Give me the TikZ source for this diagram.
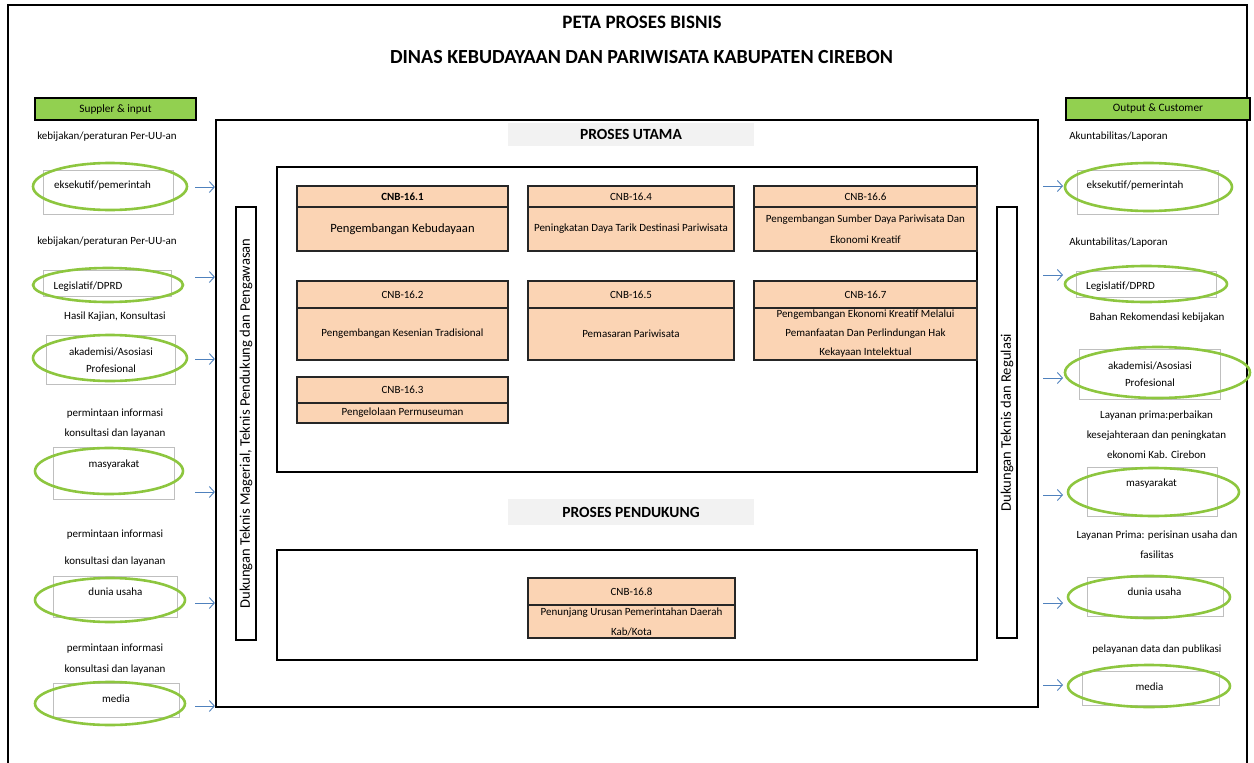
\documentclass[tikz,border=0pt]{standalone}
\usepackage{fontspec}
\setmainfont{Carlito}
\usetikzlibrary{shapes.geometric, arrows.meta, positioning}
\definecolor{procfill}{HTML}{FBD4B4}
\definecolor{tabgreen}{HTML}{92D050}
\definecolor{ringgreen}{HTML}{8DC63F}
\definecolor{arrblue}{HTML}{4F81BD}
\definecolor{hdrgray}{HTML}{F2F2F2}
\definecolor{boxgray}{HTML}{BFBFBF}
\tikzstyle{arrow} = [draw=arrblue, line width=0.9pt, -{Straight Barb[length=5pt,width=11pt]}]
\tikzstyle{tab}   = [rectangle, draw=black, line width=2.4pt, fill=tabgreen, inner sep=0pt,
                     minimum height=22pt, font=\fontsize{11.3}{13}\selectfont]

\begin{document}
\begin{tikzpicture}[x=1pt, y=-1pt,
    frame/.style={rectangle, draw=black, line width=2.2pt, inner sep=0pt},
    hdr/.style={rectangle, fill=hdrgray, minimum width=246pt, inner sep=0pt,
                font=\fontsize{15.5}{17}\selectfont\bfseries},
    bar/.style={rectangle, draw=black, line width=2pt, rotate=90, minimum width=433pt,
                minimum height=20pt, inner sep=0pt, font=\fontsize{14.6}{16}\selectfont},
    code/.style={rectangle, draw=black!85, line width=1.3pt, fill=procfill, inner sep=0pt,
                 font=\fontsize{11}{12}\selectfont},
    proc/.style={rectangle, draw=black!85, line width=1.3pt, fill=procfill, inner sep=0pt,
                 align=center, font=\fontsize{11}{19}\selectfont},
    grect/.style={rectangle, draw=boxgray, line width=1pt, inner sep=0pt},
    ring/.style={ellipse, draw=ringgreen, line width=2.6pt, inner sep=0pt},
    itm/.style={align=center, inner sep=0pt, font=\fontsize{11}{17}\selectfont},
    lbl/.style={align=center, inner sep=0pt, font=\fontsize{11}{20}\selectfont}]

  \useasboundingbox (0,0) rectangle (1254,763);
  \draw[line width=2pt] (8,763) -- (8,5) -- (1247,5) -- (1247,763);

  \node[font=\fontsize{19}{22}\selectfont\bfseries] (title) at (642,22) {PETA PROSES BISNIS};
  \node[font=\fontsize{20}{22}\selectfont\bfseries] (subtitle) at (641.5,57)
       {DINAS KEBUDAYAAN DAN PARIWISATA KABUPATEN CIREBON};

  \node[tab, minimum width=161pt] (supin)  at (115.5,109) {Suppler \& input};
  \node[tab, minimum width=184pt] (outcus) at (1158,109)  {Output \& Customer};

  \node[frame, minimum width=822pt, minimum height=587pt] (main)   at (627,413.5) {};
  \node[frame, minimum width=700pt, minimum height=305pt] (utama)  at (627,319.5) {};
  \node[frame, minimum width=700pt, minimum height=110pt] (dukung) at (627,605)   {};
  \node[hdr, minimum height=23pt] (hutama)  at (631,134.5) {PROSES UTAMA};
  \node[hdr, minimum height=26pt] (hdukung) at (631,512)   {PROSES PENDUKUNG};

  \node[bar] (barl) at (246,423.5)
       {Dukungan Teknis Magerial, Teknis Pendukung dan Pengawasan};
  \node[bar, minimum width=431pt] (barr) at (1007,422.5)
       {Dukungan Teknis dan Regulasi};

  \node[code, minimum width=211pt, minimum height=21pt, font=\fontsize{11}{12}\selectfont\bfseries]
       (c1) at (402.5,196.5) {CNB-16.1};
  \node[proc, minimum width=211pt, minimum height=44pt, font=\fontsize{12.6}{15}\selectfont]
       (p1) at (402.5,229) {Pengembangan Kebudayaan};
  \node[code, minimum width=206pt, minimum height=21pt] (c4) at (631,196.5) {CNB-16.4};
  \node[proc, minimum width=206pt, minimum height=44pt] (p4) at (631,229)
       {Peningkatan Daya Tarik Destinasi Pariwisata};
  \node[code, minimum width=223pt, minimum height=21pt] (c6) at (865.5,196.5) {CNB-16.6};
  \node[proc, minimum width=223pt, minimum height=44pt, font=\fontsize{11}{21}\selectfont]
       (p6) at (865.5,229) {Pengembangan Sumber Daya Pariwisata Dan\\Ekonomi Kreatif};

  \node[code, minimum width=211pt, minimum height=27pt] (c2) at (402.5,294.5) {CNB-16.2};
  \node[proc, minimum width=211pt, minimum height=52pt] (p2) at (402.5,334)
       {Pengembangan Kesenian Tradisional};
  \node[code, minimum width=206pt, minimum height=27pt] (c5) at (631,294.5) {CNB-16.5};
  \node[proc, minimum width=206pt, minimum height=52pt] (p5) at (631,334) {Pemasaran Pariwisata};
  \node[code, minimum width=223pt, minimum height=27pt] (c7) at (865.5,294.5) {CNB-16.7};
  \node[proc, minimum width=223pt, minimum height=52pt] (p7) at (865.5,334)
       {Pengembangan Ekonomi Kreatif Melalui\\Pemanfaatan Dan Perlindungan Hak\\Kekayaan Intelektual};

  \node[code, minimum width=211pt, minimum height=26pt] (c3) at (402.5,390) {CNB-16.3};
  \node[proc, minimum width=211pt, minimum height=20pt] (p3) at (402.5,413) {Pengelolaan Permuseuman};

  \node[code, minimum width=207pt, minimum height=27pt] (c8) at (631.5,591.5) {CNB-16.8};
  \node[proc, minimum width=207pt, minimum height=33pt, font=\fontsize{11}{20}\selectfont]
       (p8) at (631.5,621.5) {Penunjang Urusan Pemerintahan Daerah\\Kab/Kota};

  \node[lbl] (lin1) at (107,137) {kebijakan/peraturan Per-UU-an};
  \node[grect, minimum width=130pt, minimum height=44pt] (rin1) at (108,192) {};
  \node[ring, minimum width=154pt, minimum height=47pt] (ein1) at (110,186.5) {};
  \node[itm] (tin1) at (102.5,186) {eksekutif/pemerintah};

  \node[lbl] (lin2) at (107,242) {kebijakan/peraturan Per-UU-an};
  \node[grect, minimum width=128pt, minimum height=26pt] (rin2) at (107,283) {};
  \node[ring, minimum width=150pt, minimum height=34pt] (ein2) at (108,285) {};
  \node[itm] (tin2) at (88,287) {Legislatif/DPRD};

  \node[lbl] (lin3) at (115,317) {Hasil Kajian, Konsultasi};
  \node[grect, minimum width=129pt, minimum height=49pt] (rin3) at (110.5,359.5) {};
  \node[ring, minimum width=154pt, minimum height=46pt] (ein3) at (110,358) {};
  \node[itm] (tin3) at (111,360) {akademisi/Asosiasi\\Profesional};

  \node[lbl] (lin4) at (115,424) {permintaan informasi\\konsultasi dan layanan};
  \node[grect, minimum width=121pt, minimum height=52pt] (rin4) at (114,473) {};
  \node[ring, minimum width=148pt, minimum height=46pt] (ein4) at (109,471) {};
  \node[itm] (tin4) at (114,465) {masyarakat};

  \node[lbl, font=\fontsize{11}{27}\selectfont] (lin5) at (115,548.5)
       {permintaan informasi\\konsultasi dan layanan};
  \node[grect, minimum width=124pt, minimum height=41pt] (rin5) at (115.5,597) {};
  \node[ring, minimum width=150pt, minimum height=44pt] (ein5) at (110,600) {};
  \node[itm] (tin5) at (115.5,592) {dunia usaha};

  \node[lbl, font=\fontsize{11}{21}\selectfont] (lin6) at (115,659.5)
       {permintaan informasi\\konsultasi dan layanan};
  \node[grect, minimum width=126pt, minimum height=34pt] (rin6) at (116,700) {};
  \node[ring, minimum width=150pt, minimum height=43pt] (ein6) at (110,703.5) {};
  \node[itm] (tin6) at (116,699) {media};

  \node[lbl] (lout1) at (1118.5,137) {Akuntabilitas/Laporan};
  \node[grect, minimum width=141pt, minimum height=44pt] (rout1) at (1147.5,192) {};
  \node[ring, minimum width=167pt, minimum height=48pt] (eout1) at (1148.5,187) {};
  \node[itm] (tout1) at (1135,186) {eksekutif/pemerintah};

  \node[lbl] (lout2) at (1118.5,243) {Akuntabilitas/Laporan};
  \node[grect, minimum width=140pt, minimum height=26pt] (rout2) at (1146,284) {};
  \node[ring, minimum width=162pt, minimum height=36pt] (eout2) at (1146,284) {};
  \node[itm] (tout2) at (1120.5,287) {Legislatif/DPRD};

  \node[lbl] (lout3) at (1157,318) {Bahan Rekomendasi kebijakan};
  \node[grect, minimum width=141pt, minimum height=50pt] (rout3) at (1149.5,374) {};
  \node[ring, minimum width=185pt, minimum height=51pt] (eout3) at (1157.5,372.5) {};
  \node[itm] (tout3) at (1150,374.5) {akademisi/Asosiasi\\Profesional};

  \node[lbl] (lout4) at (1156.5,434.5)
       {Layanan prima:perbaikan\\kesejahteraan dan peningkatan\\ekonomi Kab. Cirebon};
  \node[grect, minimum width=130pt, minimum height=49pt] (rout4) at (1152,491.5) {};
  \node[ring, minimum width=171pt, minimum height=48pt] (eout4) at (1153.5,492) {};
  \node[itm] (tout4) at (1151.5,484) {masyarakat};

  \node[lbl] (lout5) at (1157,545) {Layanan Prima: perisinan usaha dan\\fasilitas};
  \node[grect, minimum width=136pt, minimum height=39pt] (rout5) at (1155,596.5) {};
  \node[ring, minimum width=162pt, minimum height=42pt] (eout5) at (1149,597) {};
  \node[itm] (tout5) at (1154.5,592) {dunia usaha};

  \node[lbl] (lout6) at (1157,650) {pelayanan data dan publikasi};
  \node[grect, minimum width=137pt, minimum height=34pt] (rout6) at (1150.5,688) {};
  \node[ring, minimum width=162pt, minimum height=42pt] (eout6) at (1149,686) {};
  \node[itm] (tout6) at (1149.5,687) {media};

  \coordinate (ain1) at (195,187);
  \coordinate (ain2) at (195,277);
  \coordinate (ain3) at (195,359);
  \coordinate (ain4) at (195,492);
  \coordinate (ain5) at (195,603);
  \coordinate (ain6) at (195,706);
  \coordinate (aout1) at (1063,186);
  \coordinate (aout2) at (1063,275);
  \coordinate (aout3) at (1063,378);
  \coordinate (aout4) at (1063,495);
  \coordinate (aout5) at (1063,603);
  \coordinate (aout6) at (1063,685);

  \draw[arrow] (ain1) -- (ain1 -| main.west);
  \draw[arrow] (ain2) -- (ain2 -| main.west);
  \draw[arrow] (ain3) -- (ain3 -| main.west);
  \draw[arrow] (ain4) -- (ain4 -| main.west);
  \draw[arrow] (ain5) -- (ain5 -| main.west);
  \draw[arrow] (ain6) -- (ain6 -| main.west);
  \draw[arrow, shorten <=4pt] (aout1 -| main.east) -- (aout1);
  \draw[arrow, shorten <=4pt] (aout2 -| main.east) -- (aout2);
  \draw[arrow, shorten <=4pt] (aout3 -| main.east) -- (aout3);
  \draw[arrow, shorten <=4pt] (aout4 -| main.east) -- (aout4);
  \draw[arrow, shorten <=4pt] (aout5 -| main.east) -- (aout5);
  \draw[arrow, shorten <=4pt] (aout6 -| main.east) -- (aout6);
\end{tikzpicture}
\end{document}
